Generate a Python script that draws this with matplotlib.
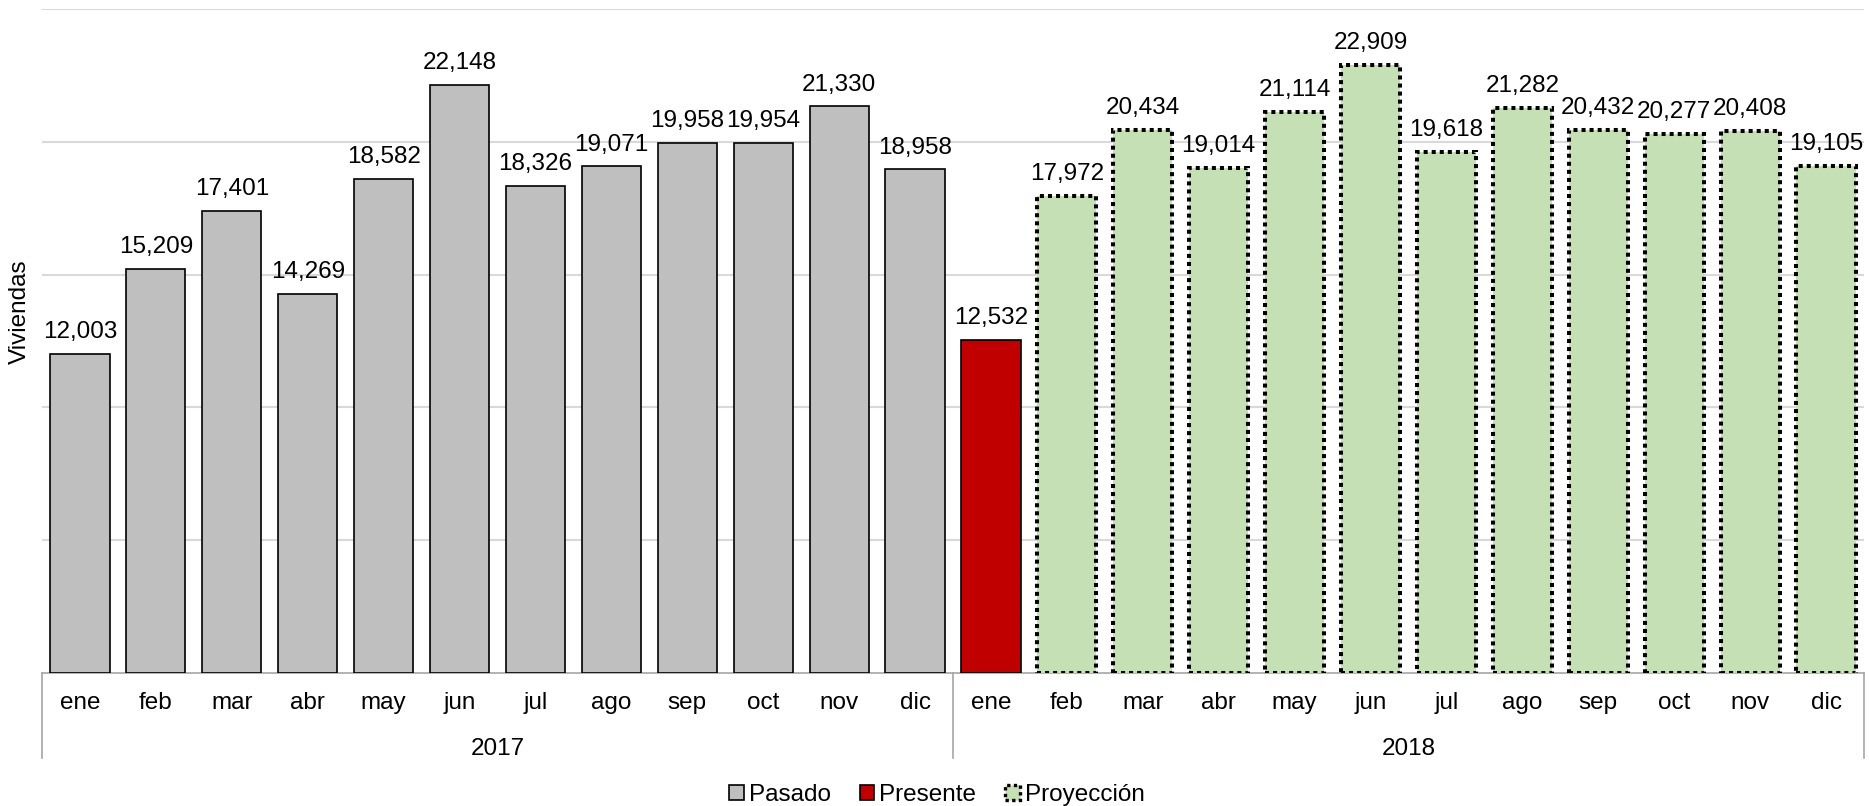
import matplotlib.pyplot as plt
from matplotlib.patches import Patch

plt.rcParams['font.family'] = ['Liberation Sans', 'DejaVu Sans']

meses = ['ene', 'feb', 'mar', 'abr', 'may', 'jun', 'jul', 'ago', 'sep', 'oct', 'nov', 'dic']
anios = ['2017', '2018']
pasado = [12003, 15209, 17401, 14269, 18582, 22148, 18326, 19071, 19958, 19954, 21330, 18958]
presente = [12532]
proyeccion = [17972, 20434, 19014, 21114, 22909, 19618, 21282, 20432, 20277, 20408, 19105]

GRIS = '#BFBFBF'
ROJO = '#C00000'
VERDE = '#C5E0B4'
FS = 17.5

fig = plt.figure(figsize=(18.69, 8.06), dpi=100)
ax = fig.add_axes([42 / 1869, (806 - 673) / 806, (1864 - 42) / 1869, (673 - 9) / 806])

x_pas = list(range(len(pasado)))
x_pre = [len(pasado)]
x_pro = list(range(len(pasado) + 1, len(pasado) + 1 + len(proyeccion)))
w = 0.78

b1 = ax.bar(x_pas, pasado, width=w, color=GRIS, edgecolor='black', linewidth=1.2, zorder=3)
b2 = ax.bar(x_pre, presente, width=w, color=ROJO, edgecolor='black', linewidth=1.2, zorder=3)
b3 = ax.bar(x_pro, proyeccion, width=w, color=VERDE, edgecolor='black', linewidth=2.9,
            linestyle=(0, (1, 1)), zorder=3)

for bars in (b1, b2, b3):
    for r in bars:
        ax.annotate(f'{int(r.get_height()):,}', (r.get_x() + r.get_width() / 2, r.get_height()),
                    xytext=(0, 11.5), textcoords='offset points', ha='center', va='baseline',
                    fontsize=FS, zorder=4)

n = len(pasado) + len(presente) + len(proyeccion)
ax.set_xlim(-0.5, n - 0.5)
ax.set_ylim(0, 25000)
ax.set_yticks([5000, 10000, 15000, 20000, 25000])
ax.set_yticklabels([])
ax.tick_params(axis='y', length=0)
ax.grid(axis='y', color='#D9D9D9', linewidth=1.5, zorder=0)

ax.set_xticks(range(n))
ax.set_xticklabels(meses + meses, fontsize=FS)
ax.tick_params(axis='x', length=0, pad=14)

for s in ('top', 'right', 'left'):
    ax.spines[s].set_visible(False)
ax.spines['bottom'].set_color('#A6A6A6')
ax.spines['bottom'].set_linewidth(1.2)

# separadores de año y etiquetas de año
sep_h = (758 - 673) / 664
for xs in (-0.5, 11.5, n - 0.5):
    ax.plot([xs, xs], [0, -sep_h], transform=ax.get_xaxis_transform(), color='#A6A6A6',
            linewidth=1.2, clip_on=False)
for i, a in enumerate(anios):
    ax.text(5.5 + 12 * i, -(749 - 673) / 664, a, transform=ax.get_xaxis_transform(),
            ha='center', va='center', fontsize=FS)

ax.set_ylabel('Viviendas', fontsize=FS)
ax.yaxis.set_label_coords(-0.006, 0.544)

handles = [Patch(facecolor=GRIS, edgecolor='black', linewidth=1.2, label='Pasado'),
           Patch(facecolor=ROJO, edgecolor='black', linewidth=1.2, label='Presente'),
           Patch(facecolor=VERDE, edgecolor='black', linewidth=2.4, linestyle=(0, (1, 1)),
                 label='Proyección')]
fig.legend(handles=handles, loc='center', bbox_to_anchor=(937 / 1869, 1 - 795 / 806), ncol=3,
           frameon=False, fontsize=FS, handlelength=0.6, handleheight=0.6, handletextpad=0.2,
           columnspacing=1.2)

fig.savefig('out.png', dpi=100)
